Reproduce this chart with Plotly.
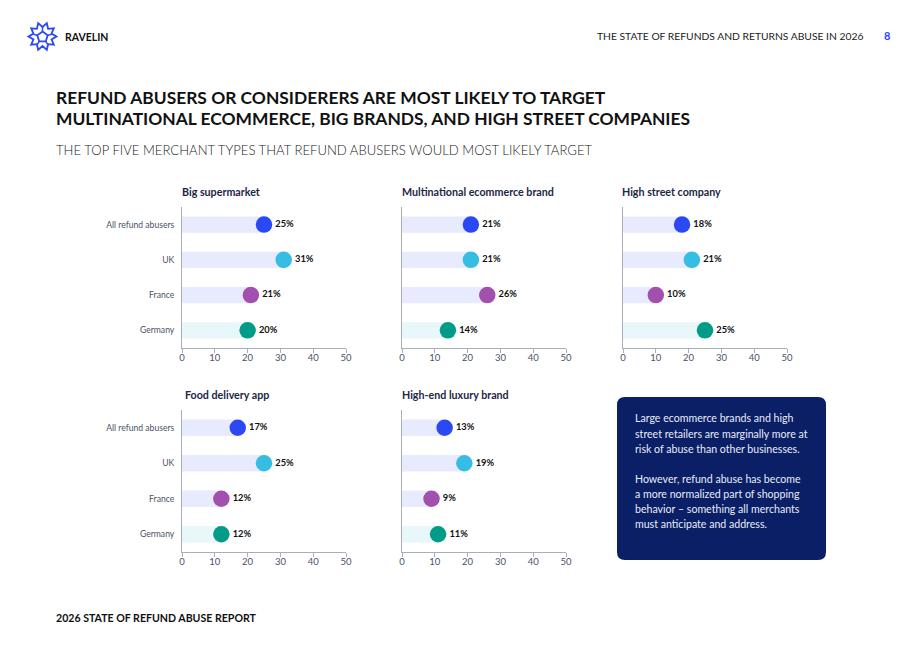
import math
import plotly.graph_objects as go

# ---------------- data ----------------
categories = ["All refund abusers", "UK", "France", "Germany"]
panel_titles = ["Big supermarket", "Multinational ecommerce brand", "High street company",
                "Food delivery app", "High-end luxury brand"]
big_supermarket = [25, 31, 21, 20]
multinational_ecommerce = [21, 21, 26, 14]
high_street = [18, 21, 10, 25]
food_delivery = [17, 25, 12, 12]
high_end_luxury = [13, 19, 9, 11]
x_ticks = [0, 10, 20, 30, 40, 50]

panel_values = [big_supermarket, multinational_ecommerce, high_street, food_delivery, high_end_luxury]

# ---------------- styles ----------------
W, H = 920, 651
dot_colors = ["#2A49F5", "#36BDE3", "#A24FAE", "#009C88"]
bar_colors = ["#E8EAFD", "#E8EAFD", "#E8EAFD", "#E8F7FA"]
FONT = "Lato"
tick_color = "#4A5266"
title_color = "#1B2743"


def px(x):
    return x / W


def py(y):
    return 1 - y / H


boxes = [
    (182, 346, 207, 348),
    (402, 566, 207, 348),
    (623, 787, 207, 348),
    (182, 346, 410, 552),
    (402, 566, 410, 552),
]
title_pos = [(181, 191), (401, 191), (621, 191), (184, 394), (401, 394)]

fig = go.Figure()
layout = dict()

for i, (vals, box) in enumerate(zip(panel_values, boxes)):
    n = "" if i == 0 else str(i + 1)
    xa, ya = "x" + n, "y" + n
    fig.add_trace(go.Bar(
        x=vals, y=categories, orientation="h", xaxis=xa, yaxis=ya,
        marker=dict(color=bar_colors, line=dict(width=0)), width=0.46,
        hoverinfo="skip", showlegend=False))
    fig.add_trace(go.Scatter(
        x=vals, y=categories, xaxis=xa, yaxis=ya, mode="markers+text",
        marker=dict(size=16.5, color=dot_colors, line=dict(width=0)),
        text=[f"{v}%" for v in vals], textposition="middle right",
        textfont=dict(family=FONT, size=9.3, color="#111111", weight=700),
        cliponaxis=False, showlegend=False, hoverinfo="skip"))
    x0, x1, yt, yb = box
    layout["xaxis" + n] = dict(
        domain=[px(x0), px(x1)], range=[0, 50], anchor=ya, automargin=False,
        tickvals=x_ticks, ticks="outside", ticklen=4, tickcolor="#A9AEB8",
        ticklabelstandoff=-3,
        showline=True, linecolor="#A9AEB8", linewidth=1, showgrid=False, zeroline=False,
        tickfont=dict(family=FONT, size=9.5, color=tick_color), fixedrange=True)
    layout["yaxis" + n] = dict(
        domain=[py(yb), py(yt)], anchor=xa, type="category", automargin=False,
        categoryarray=categories, range=[3.5, -0.5],
        showline=True, linecolor="#A9AEB8", linewidth=1, showgrid=False, zeroline=False,
        ticks="", showticklabels=(i in (0, 3)), ticklabelstandoff=5,
        tickfont=dict(family=FONT, size=8.6, color=tick_color), fixedrange=True)

annotations = []
for t, (tx, ty) in zip(panel_titles, title_pos):
    annotations.append(dict(text=t, x=px(tx), y=py(ty), xref="paper", yref="paper",
                            xanchor="left", yanchor="middle", showarrow=False, borderpad=0,
                            font=dict(family=FONT, size=10.7, color=title_color, weight=700)))

annotations.append(dict(text="RAVELIN", x=px(64), y=py(37), xref="paper", yref="paper",
                        xanchor="left", yanchor="middle", showarrow=False, borderpad=0,
                        font=dict(family=FONT, size=10.5, color="#111111", weight=700)))
annotations.append(dict(text="THE STATE OF REFUNDS AND RETURNS ABUSE IN 2026", x=px(864), y=py(36),
                        xref="paper", yref="paper", xanchor="right", yanchor="middle", showarrow=False,
                        borderpad=0, font=dict(family=FONT, size=10.3, color="#222222", weight=400)))
annotations.append(dict(text="8", x=px(887), y=py(36), xref="paper", yref="paper",
                        xanchor="center", yanchor="middle", showarrow=False, borderpad=0,
                        font=dict(family=FONT, size=11, color="#2A49F5", weight=700)))

for line, yy in [("REFUND ABUSERS OR CONSIDERERS ARE MOST LIKELY TO TARGET", 98),
                 ("MULTINATIONAL ECOMMERCE, BIG BRANDS, AND HIGH STREET COMPANIES", 118)]:
    annotations.append(dict(text=line, x=px(55), y=py(yy), xref="paper", yref="paper",
                            xanchor="left", yanchor="middle", showarrow=False, borderpad=0,
                            font=dict(family=FONT, size=17.4, color="#111111", weight=700)))
annotations.append(dict(text="THE TOP FIVE MERCHANT TYPES THAT REFUND ABUSERS WOULD MOST LIKELY TARGET",
                        x=px(55), y=py(150), xref="paper", yref="paper", xanchor="left", yanchor="middle",
                        showarrow=False, borderpad=0,
                        font=dict(family=FONT, size=13.1, color="#222222", weight=300)))

annotations.append(dict(text="2026 STATE OF REFUND ABUSE REPORT", x=px(55), y=py(618), xref="paper",
                        yref="paper", xanchor="left", yanchor="middle", showarrow=False, borderpad=0,
                        font=dict(family=FONT, size=10.6, color="#111111", weight=700)))

box_lines = [("Large ecommerce brands and high", 418),
             ("street retailers are marginally more at", 434),
             ("risk of abuse than other businesses.", 449),
             ("However, refund abuse has become", 479),
             ("a more normalized part of shopping", 494),
             ("behavior \u2013 something all merchants", 509),
             ("must anticipate and address.", 524)]
for line, yy in box_lines:
    annotations.append(dict(text=line, x=px(634), y=py(yy), xref="paper", yref="paper",
                            xanchor="left", yanchor="middle", showarrow=False, borderpad=0,
                            font=dict(family=FONT, size=10.6, color="#E8ECF8", weight=400)))

shapes = []


def rounded_rect(x0, y0, x1, y1, r):
    return (f"M {px(x0 + r)},{py(y0)} L {px(x1 - r)},{py(y0)} "
            f"Q {px(x1)},{py(y0)} {px(x1)},{py(y0 + r)} L {px(x1)},{py(y1 - r)} "
            f"Q {px(x1)},{py(y1)} {px(x1 - r)},{py(y1)} L {px(x0 + r)},{py(y1)} "
            f"Q {px(x0)},{py(y1)} {px(x0)},{py(y1 - r)} L {px(x0)},{py(y0 + r)} "
            f"Q {px(x0)},{py(y0)} {px(x0 + r)},{py(y0)} Z")


shapes.append(dict(type="path", path=rounded_rect(617, 397, 826, 560, 8), xref="paper", yref="paper",
                   fillcolor="#0A1F66", line=dict(width=0), layer="below"))

# logo: 10-point star outline with an inner pentagon and connecting spokes
cx, cy = 42.5, 36.5
logo_col = "#2A49F5"
pts = []
for k in range(20):
    ang = -math.pi / 2 + math.pi / 10 + k * math.pi / 10
    rr = 14 if k % 2 == 0 else 9.5
    pts.append((cx + rr * math.cos(ang), cy + rr * math.sin(ang)))
star = "M " + " L ".join(f"{px(a)},{py(b)}" for a, b in pts) + " Z"
shapes.append(dict(type="path", path=star, xref="paper", yref="paper",
                   line=dict(color=logo_col, width=1.8), fillcolor="rgba(0,0,0,0)"))
pent = []
for k in range(5):
    ang = -math.pi / 2 + k * 2 * math.pi / 5
    pent.append((cx + 5.5 * math.cos(ang), cy + 0.5 + 5.5 * math.sin(ang)))
pentp = "M " + " L ".join(f"{px(a)},{py(b)}" for a, b in pent) + " Z"
shapes.append(dict(type="path", path=pentp, xref="paper", yref="paper",
                   line=dict(color=logo_col, width=1.8), fillcolor="rgba(0,0,0,0)"))
for (a, b) in pent:
    ang = math.atan2(b - cy, a - cx)
    shapes.append(dict(type="line", x0=px(a), y0=py(b),
                       x1=px(cx + 9.5 * math.cos(ang)), y1=py(cy + 9.5 * math.sin(ang)),
                       xref="paper", yref="paper", line=dict(color=logo_col, width=1.5)))

fig.update_layout(
    template="none",
    width=W, height=H, margin=dict(l=0, r=0, t=0, b=0, pad=0), autosize=False,
    paper_bgcolor="white", plot_bgcolor="white",
    barmode="overlay", showlegend=False,
    annotations=annotations, shapes=shapes,
    font=dict(family=FONT),
    **layout)

fig.write_html("out.html")
